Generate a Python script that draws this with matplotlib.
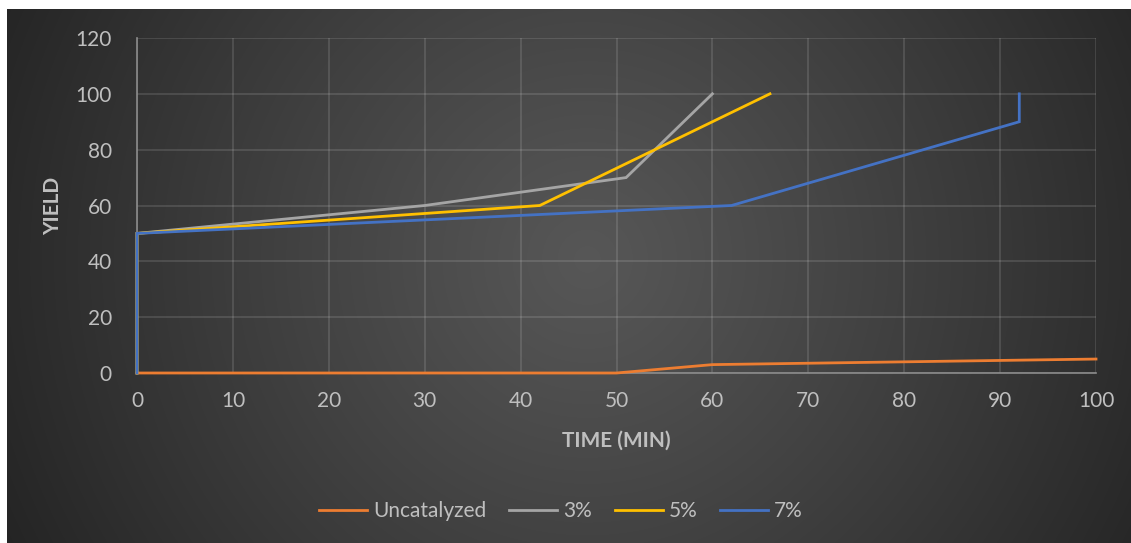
import matplotlib
matplotlib.use("Agg")
import matplotlib.pyplot as plt
import numpy as np

plt.rcParams["font.family"] = ["Lato", "DejaVu Sans"]

# data
uncat_t = [0, 50, 60, 100]
uncat_y = [0, 0, 3, 5]
p3_t = [0, 0, 30, 51, 60]
p3_y = [0, 50, 60, 70, 100]
p5_t = [0, 0, 42, 66]
p5_y = [0, 50, 60, 100]
p7_t = [0, 0, 62, 92, 92]
p7_y = [0, 50, 60, 90, 100]

series = [
    ("Uncatalyzed", uncat_t, uncat_y, "#ED7D31"),
    ("3%", p3_t, p3_y, "#A5A5A5"),
    ("5%", p5_t, p5_y, "#FFC000"),
    ("7%", p7_t, p7_y, "#4472C4"),
]

W, H = 1131, 543
fig = plt.figure(figsize=(W / 100, H / 100), dpi=100)
fig.patch.set_facecolor("white")

# dark radial-gradient chart area
bg = fig.add_axes([7 / W, 0, 1 - 7 / W, 1 - 9 / H])
bg.set_axis_off()
yy, xx = np.mgrid[0:534, 0:1124]
cx, cy = 580, 250
r = np.sqrt((xx - cx) ** 2 + (yy - cy) ** 2) / 640
r = np.clip(r, 0, 1)
shade = 0.34 - (0.34 - 0.145) * r ** 1.1
bg.imshow(np.dstack([shade] * 3), aspect="auto", interpolation="bilinear",
          extent=[0, 1, 0, 1], origin="upper")
bg.set_xlim(0, 1)
bg.set_ylim(0, 1)

ax = fig.add_axes([137 / W, 1 - 373 / H, (1096 - 137) / W, (373 - 38) / H])
ax.set_facecolor("none")

text_c = "#BFBFBF"
for name, t, y, c in series:
    ax.plot(t, y, color=c, linewidth=2, label=name, solid_joinstyle="miter",
            zorder=3, clip_on=False)

ax.set_xlim(0, 100)
ax.set_ylim(0, 120)
ax.set_xticks(np.arange(0, 101, 10))
ax.set_yticks(np.arange(0, 121, 20))
ax.grid(True, color="#FFFFFF", alpha=0.14, linewidth=1.2)
ax.set_axisbelow(True)
for s in ["top", "right"]:
    ax.spines[s].set_visible(False)
for s in ["left", "bottom"]:
    ax.spines[s].set_color("#8C8C8C")
    ax.spines[s].set_linewidth(1.2)
ax.tick_params(length=0, colors=text_c, labelsize=15, pad=13)
ax.tick_params(axis="y", pad=18)

ax.set_xlabel("TIME (MIN)", color=text_c, fontsize=15, fontweight="bold", labelpad=14)
ax.set_ylabel("YIELD", color=text_c, fontsize=15, fontweight="bold", labelpad=9)

fig.legend(loc="center", bbox_to_anchor=(561 / W, 1 - 511 / H), ncol=4, frameon=False,
           fontsize=15, labelcolor=text_c, handlelength=2.3, handletextpad=0.28,
           columnspacing=1.1)

fig.savefig("out.png", dpi=100, facecolor=fig.get_facecolor())
